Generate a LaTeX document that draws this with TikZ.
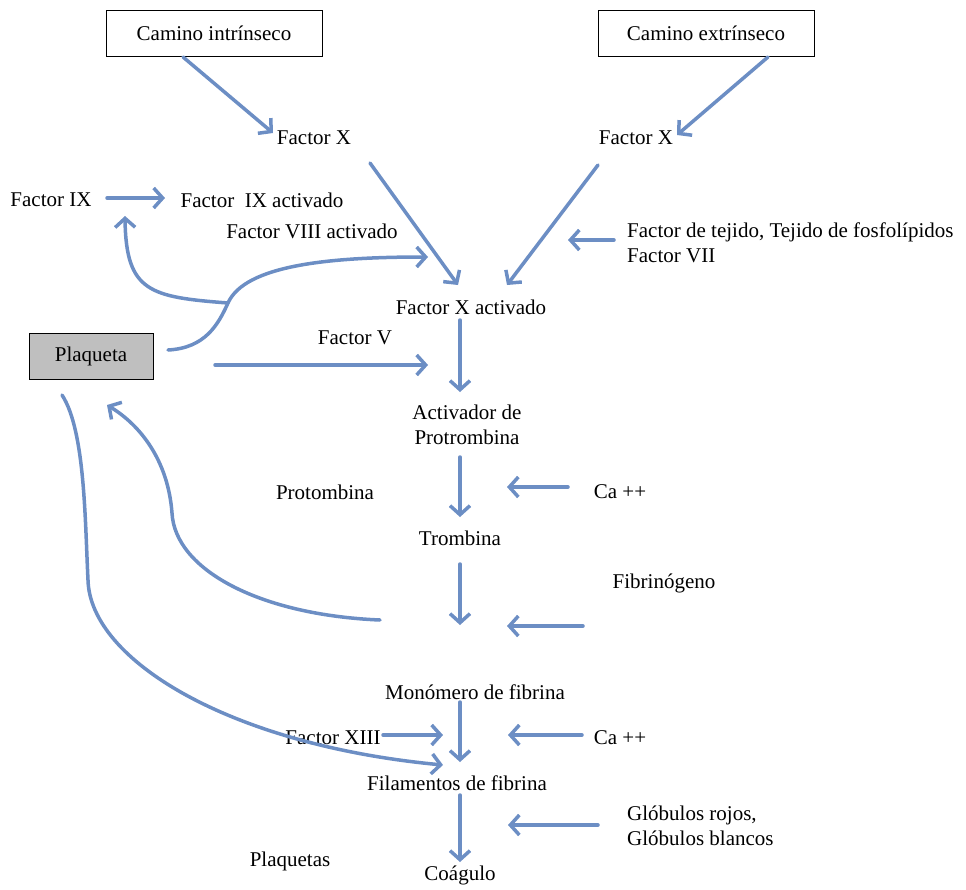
\documentclass[tikz,border=0pt]{standalone}
\usepackage{fontspec}
\setmainfont{Liberation Serif}
\usetikzlibrary{arrows.meta}
\definecolor{arr}{RGB}{108,142,196}
\definecolor{plgray}{RGB}{191,191,191}
\tikzset{
  lbl/.style={inner sep=0pt, font=\fontsize{21}{25}\selectfont},
  boxnode/.style={lbl, draw=black, line width=1pt, minimum width=216pt, minimum height=46pt},
  platebox/.style={lbl, draw=black, line width=1pt, fill=plgray, minimum width=124pt, minimum height=46pt},
  conn/.style={draw=arr, line width=3.5pt, line cap=round, -{Straight Barb[length=9pt,width=20pt]}}
}
\begin{document}
\begin{tikzpicture}[x=1pt,y=-1pt]
\useasboundingbox (0,0) rectangle (966,889);
% nodes
\node[boxnode] (ci) at (214,33) {Camino intrínseco};
\node[boxnode] (ce) at (706,33) {Camino extrínseco};
\node[lbl] (fxl) at (314,138) {Factor X};
\node[lbl] (fxr) at (636,138) {Factor X};
\node[lbl] (f9) at (51,200) {Factor IX};
\node[lbl] (f9a) at (262,200) {Factor\ \ IX activado};
\node[lbl] (f8a) at (312,231) {Factor VIII activado};
\node[lbl, align=left, anchor=west] (ftej) at (627,243) {Factor de tejido, Tejido de fosfolípidos\\Factor VII};
\node[lbl] (fxa) at (471,307) {Factor X activado};
\node[platebox] (plaq) at (91,356) {Plaqueta};
\node[lbl] (f5) at (355,338) {Factor V};
\node[lbl, align=center] (act) at (467,425) {Activador de\\Protrombina};
\node[lbl] (proto) at (325,492) {Protombina};
\node[lbl] (ca1) at (620,492) {Ca ++};
\node[lbl] (tromb) at (460,538) {Trombina};
\node[lbl] (fibr) at (664,583) {Fibrinógeno};
\node[lbl] (mono) at (475,692) {Monómero de fibrina};
\node[lbl] (f13) at (333,738) {Factor XIII};
\node[lbl] (ca2) at (620,738) {Ca ++};
\node[lbl] (fil) at (457,783) {Filamentos de fibrina};
\node[lbl, align=left, anchor=west] (glob) at (627,826) {Glóbulos rojos,\\Glóbulos blancos};
\node[lbl] (plaqs) at (290,861) {Plaquetas};
\node[lbl] (coag) at (460,875) {Coágulo};
% coordinates
\coordinate (a1s) at (183,57);  \coordinate (a1e) at (273,133);
\coordinate (a2s) at (768,57);  \coordinate (a2e) at (677,135);
\coordinate (a3s) at (370,163); \coordinate (a3e) at (458,285);
\coordinate (a4s) at (598,165); \coordinate (a4e) at (507,285);
\coordinate (a5s) at (614,240); \coordinate (a5e) at (568,240);
\coordinate (a6s) at (107,198); \coordinate (a6e) at (165,198);
\coordinate (a7s) at (215,365); \coordinate (a7e) at (428,365);
\coordinate (a8s) at (460,320); \coordinate (a8e) at (460,392);
\coordinate (a9s) at (460,457); \coordinate (a9e) at (460,517);
\coordinate (a10s) at (568,487); \coordinate (a10e) at (507,487);
\coordinate (a11s) at (460,564); \coordinate (a11e) at (460,625);
\coordinate (a12s) at (583,626); \coordinate (a12e) at (507,626);
\coordinate (a13s) at (460,702); \coordinate (a13e) at (460,762);
\coordinate (a14s) at (383,735); \coordinate (a14e) at (443,735);
\coordinate (a15s) at (582,735); \coordinate (a15e) at (508,735);
\coordinate (a16s) at (460,795); \coordinate (a16e) at (460,862);
\coordinate (a17s) at (598,825); \coordinate (a17e) at (508,825);
\coordinate (pq1) at (168,350);
\coordinate (jn) at (228,303);
\coordinate (c1e) at (428,257);
\coordinate (c2e) at (125,216);
\coordinate (c3s) at (380,620);
\coordinate (c3m) at (172,513);
\coordinate (c3e) at (107,405);
\coordinate (c4s) at (62,395);
\coordinate (c4m) at (88,580);
\coordinate (c4e) at (443,765);
% straight arrows
\foreach \i in {1,...,17} {\draw[conn] (a\i s) -- (a\i e);}
% curves
\draw[conn] (pq1) .. controls (205,348) and (218,325) .. (jn) .. controls (245,265) and (330,257) .. (c1e);
\draw[conn] (jn) .. controls (150,297) and (126,292) .. (c2e);
\draw[conn] (c3s) .. controls (260,615) and (175,570) .. (c3m) .. controls (168,460) and (140,425) .. (c3e);
\draw[conn] (c4s) .. controls (85,430) and (85,520) .. (c4m) .. controls (90,660) and (230,745) .. (c4e);
\end{tikzpicture}
\end{document}
